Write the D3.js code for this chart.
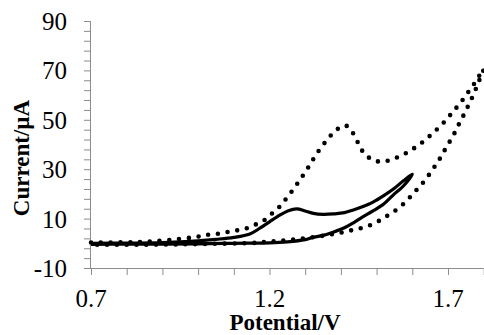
<!DOCTYPE html>
<html>
<head>
<meta charset="utf-8">
<script src="https://cdn.jsdelivr.net/npm/d3@7"></script>
<style>
  html, body { margin: 0; padding: 0; background: #fff; }
  svg { display: block; }
  .tick-label { font-family: "Liberation Serif", "Times New Roman", serif; font-size: 25px; fill: #000; }
  .axis-title { font-family: "Liberation Serif", "Times New Roman", serif; font-size: 23px; font-weight: bold; fill: #000; }
</style>
</head>
<body>
<svg id="chart" width="484" height="335"></svg>
<script>
(function () {
  'use strict';

  // tick values
  const xTickLabels = [0.7, 1.2, 1.7];
  const yTickLabels = [90, 70, 50, 30, 10, -10];

  // solid CV (potential V, current uA), forward then reverse scan
  const solidPotential = [0.70, 0.80, 0.90, 1.00, 1.05, 1.10, 1.145, 1.173, 1.20, 1.23, 1.253, 1.276, 1.30, 1.323, 1.35, 1.38, 1.41, 1.435, 1.46, 1.49, 1.52, 1.55, 1.575, 1.60,
    1.575, 1.547, 1.52, 1.49, 1.46, 1.435, 1.41, 1.38, 1.35, 1.32, 1.30, 1.25, 1.20, 1.10, 1.00, 0.90, 0.80, 0.70];
  const solidCurrent = [0.0, 0.1, 0.3, 1.0, 1.6, 2.4, 3.8, 6.1, 8.7, 11.5, 13.2, 13.9, 13.1, 12.1, 11.7, 11.9, 12.4, 13.5, 14.8, 16.7, 19.3, 22.3, 25.3, 28.0,
    23.2, 19.6, 15.9, 13.1, 10.6, 8.3, 6.3, 4.6, 3.2, 2.3, 1.5, 0.6, 0.2, 0.0, -0.2, -0.3, -0.3, -0.4];

  // dotted CV
  const dottedPotential = [0.70, 0.80, 0.86, 0.93, 1.00, 1.024, 1.052, 1.08, 1.108, 1.136, 1.164, 1.189, 1.211, 1.231, 1.249, 1.267, 1.283, 1.299, 1.314, 1.327, 1.343, 1.361, 1.38, 1.403, 1.415, 1.428, 1.443, 1.455, 1.473, 1.498, 1.526, 1.554, 1.58, 1.606, 1.628, 1.65, 1.671, 1.692, 1.71, 1.728, 1.746, 1.762, 1.78, 1.794, 1.80,
    1.789, 1.778, 1.767, 1.755, 1.742, 1.729, 1.716, 1.702, 1.687, 1.673, 1.657, 1.64, 1.622, 1.603, 1.584, 1.563, 1.538, 1.514, 1.488, 1.46, 1.433, 1.407, 1.379, 1.351, 1.323, 1.295, 1.267, 1.234, 1.206, 1.178, 1.15, 1.00, 0.90, 0.80, 0.70];
  const dottedCurrent = [0.3, 0.4, 0.7, 1.5, 2.7, 3.4, 3.8, 4.5, 5.2, 6.1, 7.8, 9.7, 12.6, 15.2, 18.5, 21.9, 25.2, 28.6, 32.0, 35.1, 38.5, 41.8, 44.9, 47.4, 47.6, 45.9, 42.2, 38.5, 35.3, 33.3, 33.3, 34.6, 36.3, 38.6, 40.9, 43.6, 46.4, 49.5, 52.6, 55.7, 59.0, 62.3, 66.0, 69.4, 70.5,
    66.5, 62.5, 58.8, 55.2, 51.4, 47.8, 44.0, 40.5, 36.8, 33.3, 29.9, 26.4, 23.2, 20.2, 17.2, 14.4, 11.9, 9.7, 7.7, 6.3, 5.4, 4.5, 3.8, 3.1, 2.5, 2.0, 1.5, 1.1, 0.7, 0.4, 0.1, -0.3, -0.5, -0.6, -0.6];

  const svg = d3.select('#chart');
  const left = 91, right = 483.7, top = 21, bottom = 268;

  const x = d3.scaleLinear().domain([0.7, 1.8]).range([left, right]);
  const y = d3.scaleLinear().domain([-10, 90]).range([bottom, top]);

  const axisColor = '#8c8c8c';

  // y axis with minor ticks every 4
  const yAxis = d3.axisLeft(y).tickValues(d3.range(-10, 90.01, 4)).tickSize(7).tickFormat('');
  const gy = svg.append('g').attr('transform', `translate(${left},0)`).call(yAxis);
  gy.select('.domain').attr('stroke', axisColor).attr('d', `M-0.5,${top}V${bottom}`);
  gy.selectAll('.tick line').attr('stroke', axisColor);

  // x axis with minor ticks every 0.1
  const xAxis = d3.axisBottom(x).tickValues(d3.range(0, 12).map(i => 0.7 + i * 0.1)).tickSize(7).tickFormat('');
  const gx = svg.append('g').attr('transform', `translate(0,${bottom})`).call(xAxis);
  gx.select('.domain').attr('stroke', axisColor).attr('d', `M${left},0.5H${right}`);
  gx.selectAll('.tick line').attr('stroke', axisColor);

  svg.append('g').selectAll('text').data(yTickLabels).join('text')
    .attr('class', 'tick-label')
    .attr('x', 67).attr('y', d => y(d) + 9)
    .attr('text-anchor', 'end')
    .text(d => d);

  svg.append('g').selectAll('text').data(xTickLabels).join('text')
    .attr('class', 'tick-label')
    .attr('x', d => x(d)).attr('y', 307)
    .attr('text-anchor', 'middle')
    .text(d => d.toFixed(1));

  svg.append('text').attr('class', 'axis-title')
    .attr('x', 285).attr('y', 330).attr('text-anchor', 'middle')
    .text('Potential/V');

  svg.append('text').attr('class', 'axis-title')
    .attr('transform', 'translate(29,158) rotate(-90)')
    .attr('text-anchor', 'middle')
    .text('Current/\u00b5A');

  const line = d3.line().x(d => x(d[0])).y(d => y(d[1])).curve(d3.curveCatmullRom.alpha(0.5));

  const dotted = d3.zip(dottedPotential, dottedCurrent);
  const solid = d3.zip(solidPotential, solidCurrent);

  svg.append('path').datum(dotted)
    .attr('d', line)
    .attr('fill', 'none').attr('stroke', '#000')
    .attr('stroke-width', 4.6).attr('stroke-linecap', 'round')
    .attr('stroke-dasharray', '0 9.8');

  svg.append('path').datum(solid)
    .attr('d', line)
    .attr('fill', 'none').attr('stroke', '#000')
    .attr('stroke-width', 3.2).attr('stroke-linejoin', 'round');
})();
</script>
</body>
</html>
